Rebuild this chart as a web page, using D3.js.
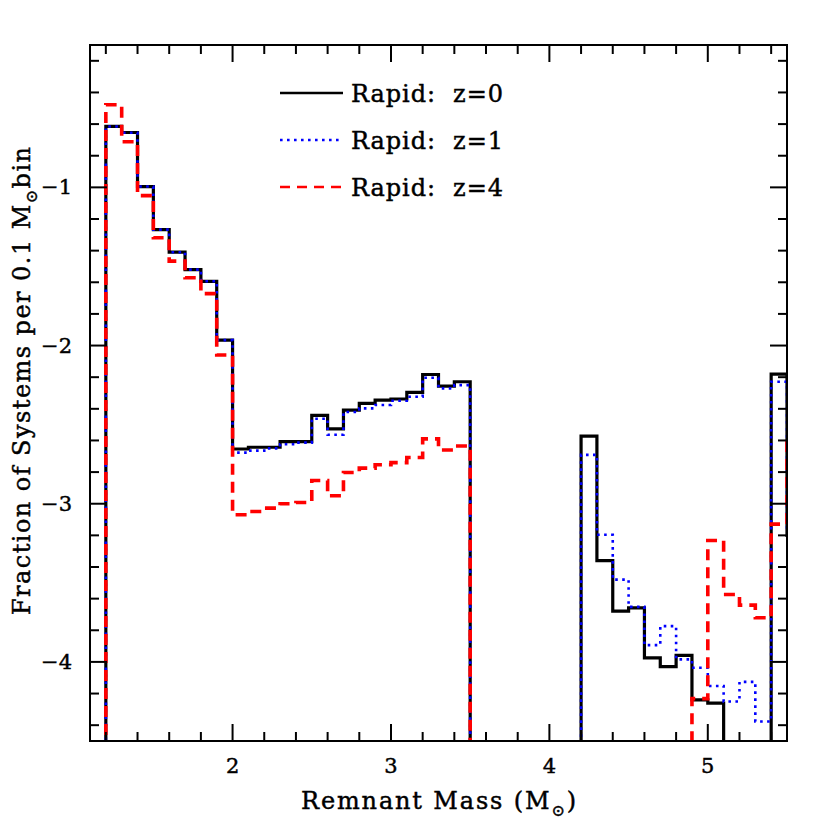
<!DOCTYPE html>
<html>
<head>
<meta charset="utf-8">
<script src="https://cdn.jsdelivr.net/npm/d3@7"></script>
<style>
  body { margin: 0; background: #fff; }
  svg { display: block; }
  text { font-family: "DejaVu Serif", serif; fill: #000; stroke: #000; stroke-width: 0.45; }
</style>
</head>
<body>
<svg width="830" height="830"></svg>
<script>
// lower edge of each 0.1 Msun bin
var binLow = [1.1, 1.2, 1.3, 1.4, 1.5, 1.6, 1.7, 1.8, 1.9, 2.0,
              2.1, 2.2, 2.3, 2.4, 2.5, 2.6, 2.7, 2.8, 2.9, 3.0,
              3.1, 3.2, 3.3, 3.4, 3.5, 3.6, 3.7, 3.8, 3.9, 4.0,
              4.1, 4.2, 4.3, 4.4, 4.5, 4.6, 4.7, 4.8, 4.9, 5.0,
              5.1, 5.2, 5.3, 5.4, 5.5];
var binWidth = 0.1;

// log10 fraction per bin, null = empty bin
var rapidZ0 = [null, -0.615, -0.653, -0.995, -1.267, -1.41, -1.52, -1.594, -1.966, -2.654,
               -2.643, -2.643, -2.607, -2.607, -2.441, -2.527, -2.408, -2.366, -2.345, -2.338,
               -2.296, -2.183, -2.256, -2.229, null, null, null, null, null, null,
               null, -2.572, -3.36, -3.679, -3.658, -3.974, -4.03, -3.959, -4.24, -4.261,
               null, null, null, -2.181, -3.2];
var rapidZ1 = [null, -0.615, -0.655, -0.995, -1.267, -1.41, -1.52, -1.594, -1.966, -2.677,
               -2.664, -2.65, -2.624, -2.614, -2.463, -2.564, -2.42, -2.397, -2.376, -2.349,
               -2.324, -2.204, -2.271, -2.25, null, null, null, null, null, null,
               null, -2.691, -3.196, -3.48, -3.652, -3.894, -3.774, -3.984, -4.037, -4.152,
               -4.25, -4.126, -4.377, -2.229, -3.15];
var rapidZ4 = [null, -0.478, -0.712, -1.052, -1.319, -1.466, -1.571, -1.672, -2.06, -3.07,
               -3.049, -3.028, -3.0, -2.992, -2.853, -2.95, -2.803, -2.775, -2.754, -2.74,
               -2.708, -2.59, -2.66, -2.635, null, null, null, null, null, null,
               null, null, null, null, null, null, null, null, -4.232, -3.232,
               -3.574, -3.641, -3.721, -3.129, -2.57];

var seriesNames = ["Rapid:  z=0", "Rapid:  z=1", "Rapid:  z=4"];
var xLabels = [2, 3, 4, 5];
var yLabels = [-1, -2, -3, -4];

var svg = d3.select("svg");
var margin = {left: 90, right: 43, top: 45, bottom: 89};
var W = 830 - margin.left - margin.right,
    H = 830 - margin.top - margin.bottom;

var x = d3.scaleLinear().domain([1.1, 5.5]).range([margin.left, margin.left + W]);
var y = d3.scaleLinear().domain([-4.5, -0.1]).range([margin.top + H, margin.top]);

svg.append("clipPath").attr("id", "plotclip")
  .append("rect")
  .attr("x", margin.left).attr("y", margin.top)
  .attr("width", W).attr("height", H);

// empty bins sit below the bottom of the frame
var floorVal = y.domain()[0] - 1;

function stepPoints(vals) {
  var pts = binLow.map(function(b, i) {
    return [b, vals[i] === null ? floorVal : vals[i]];
  });
  var last = pts[pts.length - 1];
  pts.push([last[0] + binWidth, last[1]]);
  return pts;
}

var line = d3.line()
  .x(function(d) { return x(d[0]); })
  .y(function(d) { return y(d[1]); })
  .curve(d3.curveStepAfter);

var styles = [
  {data: rapidZ0, color: "#000000", width: 3.2, dash: null},
  {data: rapidZ1, color: "#0000ff", width: 2.6, dash: "2.6,4.4"},
  {data: rapidZ4, color: "#ff0000", width: 3.6, dash: "11,7"}
];

var plot = svg.append("g").attr("clip-path", "url(#plotclip)");
styles.forEach(function(s) {
  plot.append("path")
    .attr("d", line(stepPoints(s.data)))
    .attr("fill", "none")
    .attr("stroke", s.color)
    .attr("stroke-width", s.width)
    .attr("stroke-dasharray", s.dash);
});

// frame
svg.append("rect")
  .attr("x", margin.left).attr("y", margin.top)
  .attr("width", W).attr("height", H)
  .attr("fill", "none").attr("stroke", "#000").attr("stroke-width", 2);

function isMajor(t) { return Math.abs(t - Math.round(t)) < 1e-6; }
var ticks = svg.append("g").attr("stroke", "#000").attr("stroke-width", 2);

x.ticks(22).forEach(function(t) {
  var len = isMajor(t) ? 17 : 9;
  ticks.append("line").attr("x1", x(t)).attr("x2", x(t))
    .attr("y1", margin.top + H).attr("y2", margin.top + H - len);
  ticks.append("line").attr("x1", x(t)).attr("x2", x(t))
    .attr("y1", margin.top).attr("y2", margin.top + len);
});
y.ticks(22).forEach(function(t) {
  var len = isMajor(t) ? 17 : 9;
  ticks.append("line").attr("y1", y(t)).attr("y2", y(t))
    .attr("x1", margin.left).attr("x2", margin.left + len);
  ticks.append("line").attr("y1", y(t)).attr("y2", y(t))
    .attr("x1", margin.left + W).attr("x2", margin.left + W - len);
});

// tick labels
svg.selectAll(".xlab").data(xLabels).enter().append("text")
  .attr("class", "xlab")
  .attr("x", function(d) { return x(d); })
  .attr("y", margin.top + H + 32)
  .attr("text-anchor", "middle")
  .attr("font-size", 21)
  .text(function(d) { return d; });

svg.selectAll(".ylab").data(yLabels).enter().append("text")
  .attr("class", "ylab")
  .attr("x", margin.left - 18)
  .attr("y", function(d) { return y(d) + 7; })
  .attr("text-anchor", "end")
  .attr("font-size", 21)
  .text(function(d) { return "\u2212" + Math.abs(d); });

// axis titles
var xt = svg.append("text")
  .attr("x", margin.left + W / 2)
  .attr("y", 809)
  .attr("text-anchor", "middle")
  .attr("font-size", 24)
  .attr("textLength", 275)
  .attr("lengthAdjust", "spacing");
xt.append("tspan").text("Remnant Mass (M");
xt.append("tspan").attr("font-size", 16).attr("dy", 7).text("\u2299");
xt.append("tspan").attr("dy", -7).text(")");

var yt = svg.append("text")
  .attr("transform", "translate(30,381) rotate(-90)")
  .attr("text-anchor", "middle")
  .attr("font-size", 24)
  .attr("textLength", 468)
  .attr("lengthAdjust", "spacing");
yt.append("tspan").text("Fraction of Systems per 0.1 M");
yt.append("tspan").attr("font-size", 16).attr("dy", 7).text("\u2299");
yt.append("tspan").attr("dy", -7).text("bin");

// legend
var legend = svg.append("g");
styles.forEach(function(s, i) {
  var ly = 93 + i * 47;
  legend.append("line")
    .attr("x1", 280).attr("x2", 343)
    .attr("y1", ly).attr("y2", ly)
    .attr("stroke", s.color)
    .attr("stroke-width", i === 0 ? 2.4 : 2.6)
    .attr("stroke-dasharray", i === 2 ? "10,7" : s.dash);
  legend.append("text")
    .attr("x", 351).attr("y", ly + 9)
    .attr("font-size", 24)
    .attr("textLength", 152)
    .attr("lengthAdjust", "spacing")
    .attr("xml:space", "preserve")
    .text(seriesNames[i]);
});
</script>
</body>
</html>
